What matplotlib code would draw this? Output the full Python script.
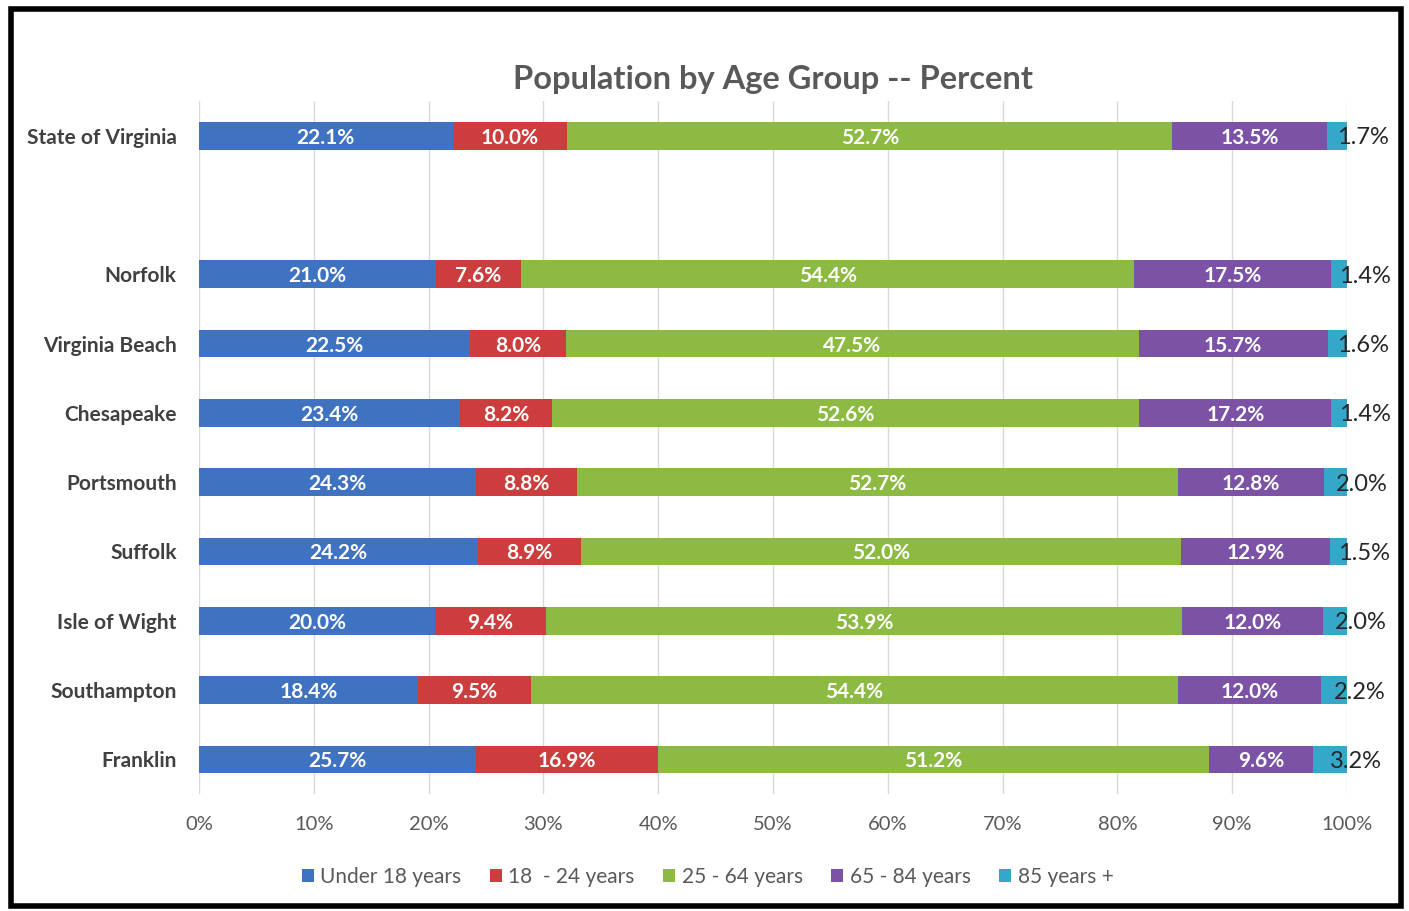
import numpy as np
import matplotlib
matplotlib.use("Agg")
import matplotlib.pyplot as plt
from matplotlib.patches import Rectangle

plt.rcParams["font.family"] = ["Lato", "DejaVu Sans"]

# 数据
places = ["State of Virginia", "", "Norfolk", "Virginia Beach", "Chesapeake",
          "Portsmouth", "Suffolk", "Isle of Wight", "Southampton", "Franklin"]
groups = ["Under 18 years", "18  - 24 years", "25 - 64 years", "65 - 84 years", "85 years +"]
under18 = [22.1, 0, 21.0, 22.5, 23.4, 24.3, 24.2, 20.0, 18.4, 25.7]
age18_24 = [10.0, 0, 7.6, 8.0, 8.2, 8.8, 8.9, 9.4, 9.5, 16.9]
age25_64 = [52.7, 0, 54.4, 47.5, 52.6, 52.7, 52.0, 53.9, 54.4, 51.2]
age65_84 = [13.5, 0, 17.5, 15.7, 17.2, 12.8, 12.9, 12.0, 12.0, 9.6]
age85 = [1.7, 0, 1.4, 1.6, 1.4, 2.0, 1.5, 2.0, 2.2, 3.2]
colors = ["#3F72C0", "#CC3E3E", "#8DBA43", "#7B52A6", "#35A7C9"]

series = np.array([under18, age18_24, age25_64, age65_84, age85])
totals = series.sum(axis=0)
totals[totals == 0] = 1
shares = series / totals  # 100%堆积

fig = plt.figure(figsize=(14.09, 9.11), dpi=100)
ax = fig.add_axes([0.1412, 0.1284, 0.8148, 0.7607])

y = np.arange(len(places))
left = np.zeros(len(places))
for i, (name, col) in enumerate(zip(groups, colors)):
    vals = shares[i]
    ax.barh(y, vals, left=left, height=0.4, color=col, label=name, zorder=3)
    for j in range(len(places)):
        if series[i, j] == 0:
            continue
        cx = left[j] + vals[j] / 2
        txt = f"{series[i, j]:.1f}%"
        if i < 4:
            ax.text(cx, y[j], txt, ha="center", va="center_baseline", color="white",
                    fontsize=15, fontweight="bold", zorder=4)
        else:
            ax.annotate(txt, (cx, y[j]), xytext=(0, 0), textcoords="offset points",
                        ha="left", va="center_baseline", color="#262626", fontsize=17,
                        zorder=4, annotation_clip=False)
    left += vals

ax.set_xlim(0, 1)
ax.set_ylim(9.5, -0.5)
ax.set_yticks(y)
ax.set_yticklabels(places, fontsize=15, fontweight="bold", color="#404040")
ax.set_xticks(np.arange(0, 1.01, 0.1))
ax.set_xticklabels([f"{int(v)}%" for v in np.arange(0, 101, 10)], fontsize=14.5, color="#595959")
ax.tick_params(axis="y", length=0, pad=16)
ax.tick_params(axis="x", length=0, pad=16)
ax.grid(axis="x", color="#D9D9D9", linewidth=1, zorder=0)
for s in ax.spines.values():
    s.set_visible(False)

fig.text(0.5485, 0.913, "Population by Age Group -- Percent", ha="center", va="center",
         fontsize=23.5, fontweight="bold", color="#595959")

ax.legend(loc="upper center", bbox_to_anchor=(0.443, -0.078), ncol=5, frameon=False,
          fontsize=15, handlelength=0.6, handleheight=0.6, handletextpad=0.3,
          columnspacing=1.35, labelcolor="#595959")

# 外框
fig.patches.append(Rectangle((0.008, 0.005), 0.986, 0.985, transform=fig.transFigure,
                             fill=False, edgecolor="black", linewidth=4))

fig.savefig("out.png", dpi=100)
